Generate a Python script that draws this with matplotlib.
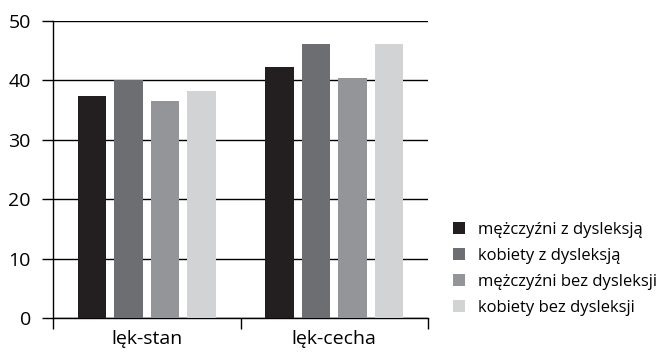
import matplotlib.pyplot as plt
import numpy as np

plt.rcParams["font.family"] = ["Open Sans", "DejaVu Sans"]
plt.rcParams["font.size"] = 14

categories = ["lęk-stan", "lęk-cecha"]
series = ["mężczyźni z dysleksją", "kobiety z dysleksją",
          "mężczyźni bez dysleksji", "kobiety bez dysleksji"]
values = [
    [37.4, 42.2],
    [40.1, 46.2],
    [36.6, 40.4],
    [38.2, 46.1],
]
colors = ["#231f20", "#6d6e71", "#939598", "#d1d3d4"]

fig = plt.figure(figsize=(6.62, 3.52), dpi=100)
ax = fig.add_axes([53 / 662, 34 / 352, 375 / 662, 297 / 352])

x = np.arange(len(categories))
width = 0.151
step = 0.195
for i, (name, vals) in enumerate(zip(series, values)):
    ax.bar(x + (i - 1.5) * step, vals, width, color=colors[i], label=name, zorder=3)

ax.set_xlim(-0.5, 1.5)
ax.set_ylim(0, 50)
ax.set_yticks([0, 10, 20, 30, 40, 50])
ax.set_xticks(x)
ax.set_xticklabels(categories)
ax.set_xticks([-0.5, 0.5, 1.5], minor=True)
ax.tick_params(axis="x", which="major", length=0, pad=9)
ax.tick_params(axis="x", which="minor", length=8, width=1, color="black")
ax.tick_params(axis="y", length=8, width=1, pad=8)

ax.grid(axis="y", color="black", linewidth=1, zorder=0)
ax.spines["top"].set_visible(False)
ax.spines["right"].set_visible(False)
ax.spines["left"].set_linewidth(1)
ax.spines["bottom"].set_linewidth(1)

ax.legend(loc="upper left", bbox_to_anchor=(446 / 662, 1 - 215 / 352),
          bbox_transform=fig.transFigure, frameon=False, fontsize=12,
          handlelength=0.75, handleheight=0.75, handletextpad=0.75,
          labelspacing=0.6, borderaxespad=0)

fig.savefig("out.png", dpi=100)
